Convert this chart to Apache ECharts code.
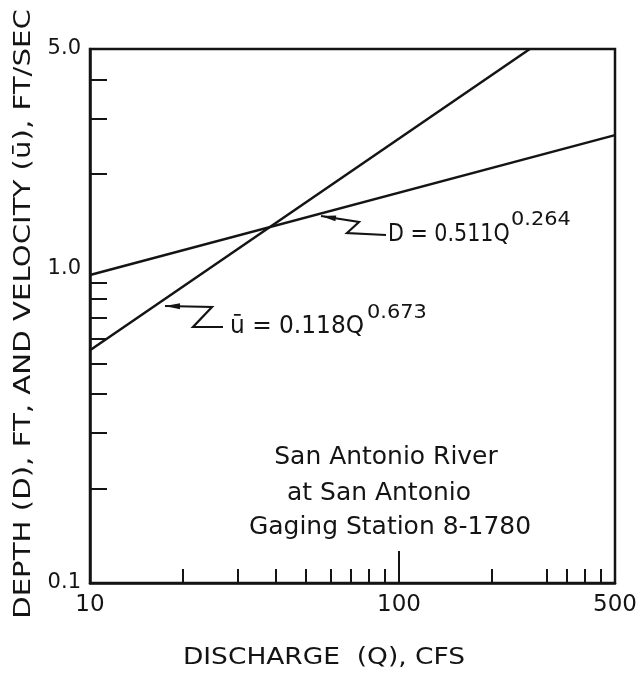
<!DOCTYPE html>
<html>
<head>
<meta charset="utf-8">
<script src="https://cdn.jsdelivr.net/npm/echarts@6.0.0/dist/echarts.min.js"></script>
<style>
html,body{margin:0;padding:0;background:#fff;}
#chart{width:644px;height:678px;}
</style>
</head>
<body>
<div id="chart"></div>
<script>
// ---- data ----
var xRange = [10, 500];
var yRange = [0.1, 5.0];
var depthLine = [[10, 0.955], [500, 2.66]];      // D = 0.511 Q^0.264
var velocityLine = [[10, 0.55], [265, 5.0]];     // u = 0.118 Q^0.673
var xLabelValues = [10, 100, 500];
var xMinorTicks = [20, 30, 40, 50, 60, 70, 80, 90, 200, 300, 350, 400, 450];
var xMajorTicks = [100];
var yLabelValues = [0.1, 1.0, 5.0];
var yMinorTicks = [0.2, 0.3, 0.4, 0.5, 0.6, 0.7, 0.8, 0.9, 2, 3, 4];
var xTitle = 'DISCHARGE  (Q), CFS';
var yTitle = 'DEPTH (D), FT, AND VELOCITY (\u016B), FT/SEC';
var depthEq = ['D = 0.511Q', '0.264'];
var velocityEq = ['\u016B = 0.118Q', '0.673'];
var stationText = ['San Antonio River', 'at San Antonio', 'Gaging Station 8-1780'];

var INK = '#141414';
var FONT = 'DejaVu Sans';
var LW = 2.5;

function arrowHead(tip, from, len, half) {
  var dx = tip[0] - from[0], dy = tip[1] - from[1];
  var d = Math.sqrt(dx * dx + dy * dy);
  var ux = dx / d, uy = dy / d;
  var bx = tip[0] - ux * len, by = tip[1] - uy * len;
  return [tip, [bx - uy * half, by + ux * half], [bx + uy * half, by - ux * half]];
}

var chart = echarts.init(document.getElementById('chart'), null, {renderer: 'canvas'});

var dLeader = [[321, 216], [359, 222], [347, 233], [386, 235]];
var uLeader = [[165, 306], [212, 307], [193, 327], [223, 327]];

var option = {
  backgroundColor: '#fff',
  animation: false,
  grid: {left: 90, right: 29, top: 49, bottom: 95, show: true, borderColor: INK, borderWidth: LW, backgroundColor: 'transparent'},
  xAxis: [{
    type: 'log', logBase: 10, min: xRange[0], max: xRange[1],
    axisLine: {show: true, lineStyle: {color: INK, width: LW}},
    axisTick: {show: true, inside: true, length: 14, lineStyle: {color: INK, width: 2}, customValues: xMinorTicks},
    axisLabel: {show: true, customValues: xLabelValues, margin: 11, color: INK, fontFamily: FONT, fontSize: 23,
      formatter: function (v) { return String(Math.round(v)); }},
    splitLine: {show: false}, minorTick: {show: false}
  }, {
    type: 'log', logBase: 10, min: xRange[0], max: xRange[1], position: 'bottom',
    axisLine: {show: false},
    axisTick: {show: true, inside: true, length: 32, lineStyle: {color: INK, width: 2}, customValues: xMajorTicks},
    axisLabel: {show: false},
    splitLine: {show: false}
  }],
  yAxis: [{
    type: 'log', logBase: 10, min: yRange[0], max: yRange[1],
    axisLine: {show: true, lineStyle: {color: INK, width: LW}},
    axisTick: {show: true, inside: true, length: 17, lineStyle: {color: INK, width: 2}, customValues: yMinorTicks},
    axisLabel: {show: true, customValues: yLabelValues, margin: 9, color: INK, fontFamily: FONT, fontSize: 21,
      formatter: function (v) { return Number(v).toFixed(1); }},
    splitLine: {show: false}
  }],
  series: [{
    type: 'line', name: 'D', data: depthLine, xAxisIndex: 0, yAxisIndex: 0,
    showSymbol: false, symbol: 'none', lineStyle: {color: INK, width: LW}, silent: true
  }, {
    type: 'line', name: 'u', data: velocityLine, xAxisIndex: 0, yAxisIndex: 0,
    showSymbol: false, symbol: 'none', lineStyle: {color: INK, width: LW}, silent: true
  }],
  graphic: [
    {type: 'text', x: 24, y: 314, rotation: Math.PI / 2, scaleX: 1.27,
      style: {text: yTitle, x: 0, y: 0, textAlign: 'center', textVerticalAlign: 'middle', font: '23px "DejaVu Sans"', fill: INK}},
    {type: 'text', x: 324, y: 658, scaleX: 1.15,
      style: {text: xTitle, x: 0, y: 0, textAlign: 'center', textVerticalAlign: 'middle', font: '23px "DejaVu Sans"', fill: INK}},
    {type: 'text', x: 386, y: 458, scaleX: 1.04,
      style: {text: stationText[0], x: 0, y: 0, textAlign: 'center', textVerticalAlign: 'middle', font: '24px "DejaVu Sans"', fill: INK}},
    {type: 'text', x: 379, y: 494, scaleX: 1.04,
      style: {text: stationText[1], x: 0, y: 0, textAlign: 'center', textVerticalAlign: 'middle', font: '24px "DejaVu Sans"', fill: INK}},
    {type: 'text', x: 390, y: 528, scaleX: 1.04,
      style: {text: stationText[2], x: 0, y: 0, textAlign: 'center', textVerticalAlign: 'middle', font: '24px "DejaVu Sans"', fill: INK}},
    // D equation
    {type: 'text', x: 388, y: 235, scaleX: 0.86,
      style: {text: depthEq[0], x: 0, y: 0, textAlign: 'left', textVerticalAlign: 'middle', font: '24px "DejaVu Sans"', fill: INK}},
    {type: 'text', x: 511, y: 220, scaleX: 1.1,
      style: {text: depthEq[1], x: 0, y: 0, textAlign: 'left', textVerticalAlign: 'middle', font: '19px "DejaVu Sans"', fill: INK}},
    // u equation
    {type: 'text', x: 230, y: 327, scaleX: 0.97,
      style: {text: velocityEq[0], x: 0, y: 0, textAlign: 'left', textVerticalAlign: 'middle', font: '24px "DejaVu Sans"', fill: INK}},
    {type: 'text', x: 367, y: 313, scaleX: 1.1,
      style: {text: velocityEq[1], x: 0, y: 0, textAlign: 'left', textVerticalAlign: 'middle', font: '19px "DejaVu Sans"', fill: INK}},
    // leaders
    {type: 'polyline', shape: {points: dLeader}, style: {stroke: INK, lineWidth: 2.2, fill: null}},
    {type: 'polygon', shape: {points: arrowHead(dLeader[0], dLeader[1], 15, 3)}, style: {fill: INK}},
    {type: 'polyline', shape: {points: uLeader}, style: {stroke: INK, lineWidth: 2.2, fill: null}},
    {type: 'polygon', shape: {points: arrowHead(uLeader[0], uLeader[1], 15, 3)}, style: {fill: INK}}
  ]
};
chart.setOption(option);
</script>
</body>
</html>
